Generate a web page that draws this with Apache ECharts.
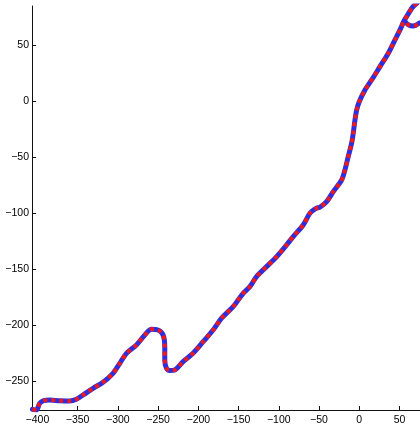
<!DOCTYPE html>
<html>
<head>
<meta charset="utf-8">
<script src="https://cdn.jsdelivr.net/npm/echarts@6/dist/echarts.min.js"></script>
<style>
  html, body { margin: 0; padding: 0; background: #fff; }
  #chart { width: 420px; height: 429px; }
</style>
</head>
<body>
<div id="chart"></div>
<script>
// Track coordinates (x, y) along the path
const trackX = [
  -406.2, -401.2, -397.1, -392.2, -384.7, -372.3, -359.8, -351.5, -343.3, -330.8,
  -318.4, -306.0, -297.6, -289.3, -276.9, -266.5, -258.2, -250.0, -243.8, -241.7,
  -241.7, -239.6, -235.5, -229.2, -218.9, -206.5, -194.0, -181.6, -171.1, -156.7,
  -144.3, -135.9, -127.6, -115.2, -102.7, -90.3, -82.1, -69.7, -61.3, -53.0,
  -48.9, -40.5, -32.3, -21.9, -17.8, -13.7, -9.5, -7.5, -5.3, -3.2,
  0.0, 7.1, 15.4, 25.7, 36.1, 44.4, 50.6, 55.6, 60.9, 66.8,
  73.0, 80.0, 90.0, 88.0, 80.0, 75.4, 70.0, 66.8, 61.0, 57.5
];
const trackY = [
  -275.1, -275.7, -269.7, -267.4, -266.8, -267.4, -267.6, -266.1, -262.3, -256.3,
  -250.9, -242.9, -234.0, -225.1, -217.6, -208.7, -203.6, -204.2, -208.7, -219.1,
  -231.0, -238.4, -240.4, -239.9, -232.5, -225.0, -214.7, -204.2, -193.7, -183.4,
  -171.4, -165.5, -156.5, -147.6, -138.7, -128.2, -120.8, -110.4, -99.9, -95.4,
  -94.5, -89.5, -80.6, -70.2, -61.2, -49.3, -37.4, -28.4, -16.5, -7.6,
  -0.2, 10.3, 19.2, 31.1, 43.1, 55.0, 63.9, 71.9, 78.2, 84.7,
  88.9, 95.0, 88.0, 74.0, 70.5, 70.2, 68.0, 67.5, 68.6, 71.0
];

// Tick labels
const xTicks = [-400, -350, -300, -250, -200, -150, -100, -50, 0, 50];
const yTicks = [-250, -200, -150, -100, -50, 0, 50];

const pathData = trackX.map((x, i) => [x, trackY[i]]);
const fmt = v => String(v).replace('-', '\u2212');

const axisCommon = {
  type: 'value',
  axisLine: { show: true, onZero: false, lineStyle: { color: '#111', width: 1 } },
  splitLine: { show: false },
  axisLabel: {
    color: '#000',
    fontFamily: 'Liberation Sans, Arial, sans-serif',
    fontSize: 10.5,
    formatter: fmt
  },
  axisTick: { show: true, inside: true, length: 4, lineStyle: { color: '#111', width: 1 } }
};

const chart = echarts.init(document.getElementById('chart'), null, { renderer: 'canvas' });
chart.setOption({
  animation: false,
  grid: { left: 32, right: 0, top: 6, bottom: 19, containLabel: false },
  xAxis: Object.assign({}, axisCommon, {
    min: -406.7, max: 75.5,
    axisLabel: Object.assign({}, axisCommon.axisLabel, { customValues: xTicks, margin: 5 }),
    axisTick: Object.assign({}, axisCommon.axisTick, { customValues: xTicks })
  }),
  yAxis: Object.assign({}, axisCommon, {
    min: -275.7, max: 85.3,
    axisLabel: Object.assign({}, axisCommon.axisLabel, { customValues: yTicks, margin: 3 }),
    axisTick: Object.assign({}, axisCommon.axisTick, { customValues: yTicks })
  }),
  series: [
    {
      type: 'line',
      data: pathData,
      showSymbol: false,
      smooth: 0.3,
      clip: true,
      lineStyle: { color: '#2d2ee0', width: 5, cap: 'round', join: 'round' },
      z: 2
    },
    {
      type: 'line',
      data: pathData,
      showSymbol: false,
      smooth: 0.3,
      clip: true,
      lineStyle: { color: '#ee1a1a', width: 4, type: [4, 4], cap: 'butt', join: 'round' },
      z: 3
    }
  ]
});
</script>
</body>
</html>
